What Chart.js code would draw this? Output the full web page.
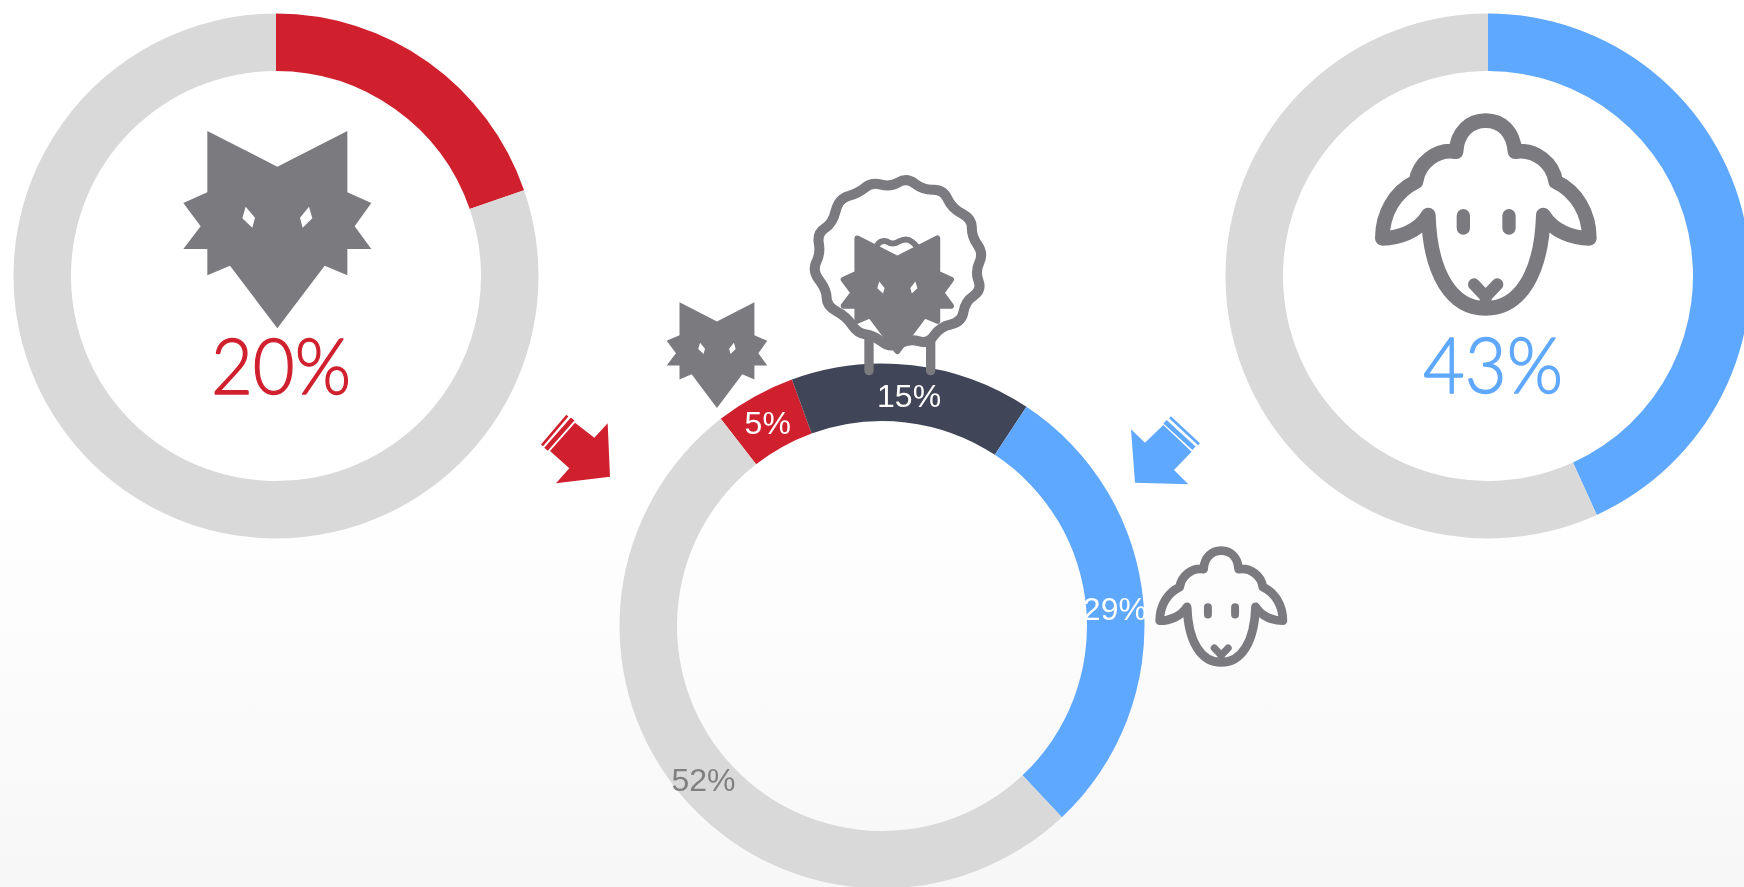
<!DOCTYPE html>
<html><head><meta charset="utf-8">
<style>
html,body{margin:0;padding:0;width:1744px;height:887px;overflow:hidden;background:linear-gradient(#fff 0,#fff 55%,#f7f7f7 100%);}
#stage{position:relative;width:1744px;height:887px;overflow:hidden;}
canvas{position:absolute;display:block;}
svg{position:absolute;left:0;top:0;}
</style>
<script src="https://cdn.jsdelivr.net/npm/chart.js@4"></script>
</head><body>
<div id="stage">
<canvas id="wolfChart" width="540" height="540" style="left:5.5px;top:5.5px;width:540px;height:540px"></canvas>
<canvas id="sheepChart" width="540" height="540" style="left:1217.5px;top:5.5px;width:540px;height:540px"></canvas>
<canvas id="mixChart" width="540" height="540" style="left:611.5px;top:356px;width:540px;height:540px"></canvas>
<svg width="1744" height="887" viewBox="0 0 1744 887" id="icons"></svg>
</div>
<script>
// ---- data ----
const wolfValues = [19.7, 80.3];
const sheepValues = [43.2, 56.8];
const mixLabels = ['5%', '15%', '29%', '52%'];
const mixValues = [5, 15, 29, 52];
const wolfLabel = '20%';
const sheepLabel = '43%';

// ---- style ----
const RED = '#d0202e', BLUE = '#5fa8ff', DARK = '#414558', GREY = '#d9d9d9';
const ICON = '#7a7a7f';
const OUTER = 262.5, INNER = 205;

const base = {
  responsive: false, animation: false, radius: OUTER, cutout: (INNER / OUTER * 100) + '%',
  layout: { padding: 0 },
  plugins: { legend: { display: false }, tooltip: { enabled: false } },
  events: []
};

function centerText(text, color, dx, dy, width) {
  return { id: 'centerText', afterDraw(c) {
    const a = c.getDatasetMeta(0).data[0], g = c.ctx;
    g.save();
    g.font = '300 76px Lato, "Open Sans", sans-serif';
    g.fillStyle = color; g.strokeStyle = color; g.lineWidth = 1.3; g.lineJoin = 'round';
    g.textAlign = 'center'; g.textBaseline = 'alphabetic';
    const w = g.measureText(text).width;
    g.translate(a.x + dx, a.y + dy);
    g.scale(width / w, 1);
    g.fillText(text, 0, 0);
    g.strokeText(text, 0, 0);
    g.restore();
  }};
}

new Chart(document.getElementById('wolfChart'), {
  type: 'doughnut',
  data: { labels: ['wolf', 'rest'], datasets: [{ data: wolfValues, backgroundColor: [RED, GREY], borderWidth: 0 }] },
  options: base, plugins: [centerText(wolfLabel, RED, 5, 118, 140)]
});
new Chart(document.getElementById('sheepChart'), {
  type: 'doughnut',
  data: { labels: ['sheep', 'rest'], datasets: [{ data: sheepValues, backgroundColor: [BLUE, GREY], borderWidth: 0 }] },
  options: base, plugins: [centerText(sheepLabel, BLUE, 5, 117, 140)]
});

// baseline shift of each label from its arc's mid point
const mixLabelShift = [[-1, 12.4], [0, 13.2], [0, 14], [-1, 13]];
const mixLabelColors = ['#ffffff', '#ffffff', '#ffffff', '#808080'];
new Chart(document.getElementById('mixChart'), {
  type: 'doughnut',
  data: { labels: mixLabels, datasets: [{ data: mixValues, backgroundColor: [RED, DARK, BLUE, GREY], borderWidth: 0 }] },
  options: Object.assign({}, base, { rotation: -37.9 }),
  plugins: [{ id: 'arcText', afterDraw(c) {
    const g = c.ctx;
    g.save();
    g.font = '32px "Liberation Sans", Arial, sans-serif';
    g.textAlign = 'center'; g.textBaseline = 'alphabetic';
    c.getDatasetMeta(0).data.forEach((arc, i) => {
      const p = arc.getCenterPoint();
      g.fillStyle = mixLabelColors[i];
      g.fillText(mixLabels[i], p.x + mixLabelShift[i][0], p.y + mixLabelShift[i][1]);
    });
    g.restore();
  }}]
});

// ---- pictograms ----
const wolfBody = '142,63 352,170 562,63 562,247 634,279 584,349 634,417 562,417 562,496 494,467 352,655 210,467 142,496 142,417 70,417 122,349 70,279 142,247';
const wolfEyes = ['257,290 285,323 277,353 247,325', '447,290 420,323 428,353 457,325'];
function wolf(tx, ty, s, extra) {
  return `<g transform="translate(${tx} ${ty}) scale(${s})"><polygon points="${wolfBody}" fill="${ICON}" ${extra ? `stroke="${ICON}" stroke-width="${extra}" stroke-linejoin="round"` : ''}/>` +
    wolfEyes.map(e => `<polygon points="${e}" fill="#fff"/>`).join('') + '</g>';
}
const sheepOutline = 'M97 415C97 340 135 275 198 245C205 190 260 145 318 155C322 95 360 62 407 62C455 62 490 95 495 155C555 145 610 190 617 245C680 275 718 340 718 415C670 415 610 395 580 345C575 520 510 625 407 625C305 625 240 520 235 345C205 395 145 415 97 415Z';
function sheep(tx, ty, s) {
  return `<g transform="translate(${tx} ${ty}) scale(${s})" fill="none" stroke="${ICON}" stroke-linecap="round" stroke-linejoin="round">
  <path d="${sheepOutline}" stroke-width="44"/>
  <path d="M340 347V384M477 347V384" stroke-width="40"/>
  <path d="M372 553L407 590L442 553M407 590V615" stroke-width="36"/></g>`;
}
const fleece = [[770,52],[722,82],[665,66],[625,100],[566,116],[548,190],[501,220],[512,280],[486,332],[530,390],[530,438],[590,470],[622,520],[670,525],[720,565],[780,535],[834,553],[870,500],[936,486],[945,425],[996,390],[975,335],[1001,280],[965,230],[966,176],[905,145],[880,88],[820,90]];
function smooth(pts) {
  const mid = (a, b) => [(a[0] + b[0]) / 2, (a[1] + b[1]) / 2];
  let m = mid(pts[pts.length - 1], pts[0]), d = `M${m[0]} ${m[1]}`;
  pts.forEach((p, i) => { const n = mid(p, pts[(i + 1) % pts.length]); d += `Q${p[0]} ${p[1]} ${n[0]} ${n[1]}`; });
  return d + 'Z';
}
const fluffy = `<g transform="translate(650 160) scale(${1/3})" fill="none" stroke="${ICON}" stroke-linecap="round" stroke-linejoin="round">
  <path d="M657 520V632M842 520V632" stroke-width="28"/>
  <path d="${smooth(fleece)}" stroke-width="30" fill="#fff"/>
  <path d="M680 258Q692 238 712 245Q728 256 745 245Q770 232 785 245Q795 252 802 262" stroke-width="18"/></g>`;
const arrows = `
  <g transform="translate(530 400) scale(${1/3})" fill="${RED}" stroke="${RED}">
    <polygon points="233,70 240,230 78,250 118,205 60,153 135,68 193,113" stroke="none"/>
    <path d="M36 136L112 47" stroke-width="8" fill="none"/><path d="M48 148L128 57" stroke-width="14" fill="none"/></g>
  <g transform="translate(1120 410) scale(${1/3})" fill="${BLUE}" stroke="${BLUE}">
    <polygon points="33,58 75,98 130,45 215,125 162,180 205,223 45,218" stroke="none"/>
    <path d="M150 22L237 103" stroke-width="8" fill="none"/><path d="M135 35L222 115" stroke-width="14" fill="none"/></g>`;
document.getElementById('icons').innerHTML =
  wolf(160, 110, 1/3) + sheep(1350, 100, 1/3) + sheep(1140.5, 538.4, 0.1983) +
  wolf(654.2, 291.1, 0.1783) + fluffy + wolf(830.2, 226.3, 0.1907, 30) + arrows;
</script>
</body></html>
